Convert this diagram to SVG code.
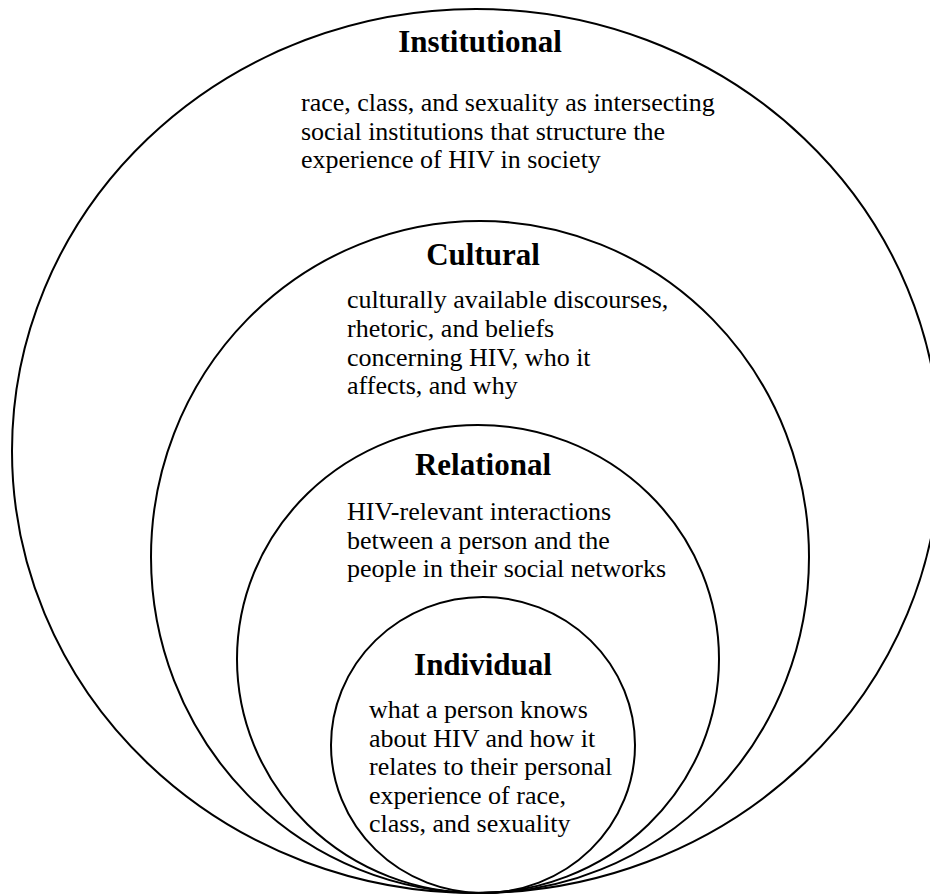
<svg xmlns="http://www.w3.org/2000/svg" width="930" height="895" viewBox="0 0 930 895">
<style>
.ring{fill:none;stroke:#000;stroke-width:2}
.title{font-family:"Liberation Serif","Times New Roman",serif;font-weight:bold;font-size:31px;fill:#000;text-anchor:middle}
.body{font-family:"Liberation Serif","Times New Roman",serif;font-size:26px;fill:#000}
</style>
<rect width="930" height="895" fill="#fff"/>
<g id="institutional">
<ellipse class="ring" cx="476" cy="451" rx="464" ry="442"/>
<text class="title" x="480" y="52">Institutional</text>
<text class="body" x="301"><tspan x="301" y="111">race, class, and sexuality as intersecting</tspan><tspan x="301" y="139.5">social institutions that structure the</tspan><tspan x="301" y="168">experience of HIV in society</tspan></text>
</g>
<g id="cultural">
<ellipse class="ring" cx="480" cy="557" rx="329" ry="336"/>
<text class="title" x="483" y="265">Cultural</text>
<text class="body"><tspan x="347" y="308">culturally available discourses,</tspan><tspan x="347" y="337">rhetoric, and beliefs</tspan><tspan x="347" y="365.5">concerning HIV, who it</tspan><tspan x="347" y="394">affects, and why</tspan></text>
</g>
<g id="relational">
<ellipse class="ring" cx="478" cy="659" rx="241" ry="234"/>
<text class="title" x="483" y="475">Relational</text>
<text class="body"><tspan x="347" y="520">HIV-relevant interactions</tspan><tspan x="347" y="548.5">between a person and the</tspan><tspan x="347" y="577">people in their social networks</tspan></text>
</g>
<g id="individual">
<ellipse class="ring" cx="483" cy="745" rx="152" ry="148"/>
<text class="title" x="483" y="675">Individual</text>
<text class="body"><tspan x="369" y="718">what a person knows</tspan><tspan x="369" y="746.5">about HIV and how it</tspan><tspan x="369" y="775">relates to their personal</tspan><tspan x="369" y="803.5">experience of race,</tspan><tspan x="369" y="832">class, and sexuality</tspan></text>
</g>
<g id="connectors"></g>
</svg>
